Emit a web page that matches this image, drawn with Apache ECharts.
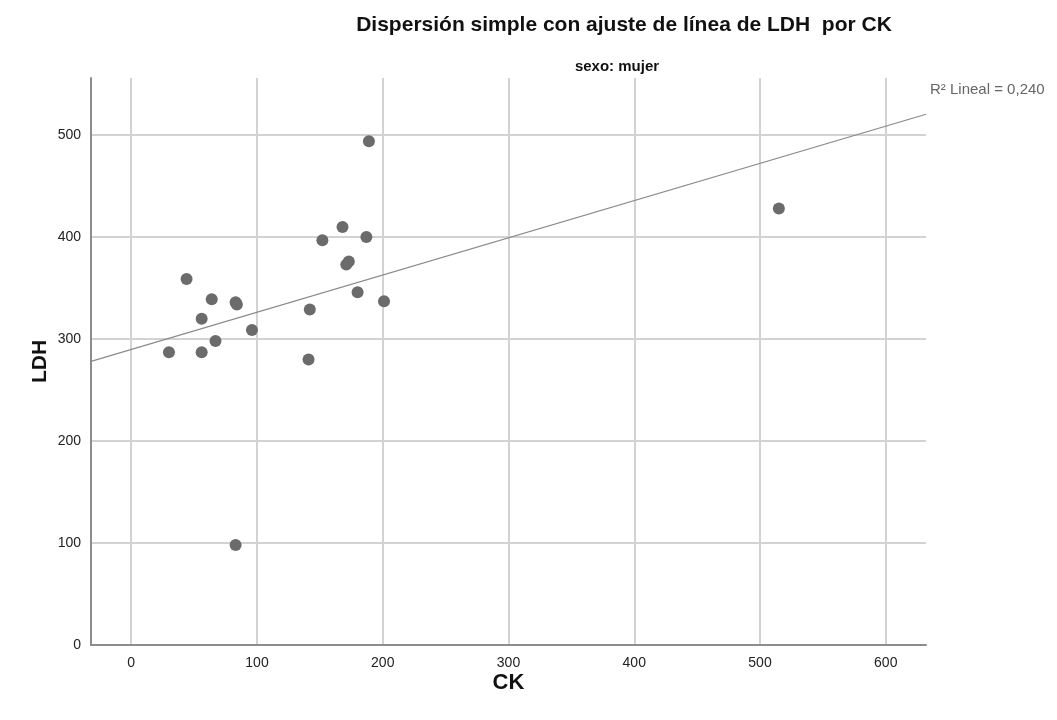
<!DOCTYPE html>
<html>
<head>
<meta charset="utf-8">
<script src="https://cdn.jsdelivr.net/npm/echarts@6/dist/echarts.min.js"></script>
<style>
  html, body { margin: 0; padding: 0; background: #fff; }
  #chart { width: 1057px; height: 720px; }
</style>
</head>
<body>
<div id="chart"></div>
<script>
// CK and LDH values for the "mujer" group
const ck  = [30, 44, 56, 56, 64, 67, 83, 84, 96, 83, 141, 142, 152, 168, 171, 173, 180, 187, 189, 201, 515];
const ldh = [287, 359, 320, 287, 339, 298, 336, 334, 309, 98, 280, 329, 397, 410, 373, 376, 346, 400, 494, 337, 428];

const titleText = 'Dispersión simple con ajuste de línea de LDH  por CK';
const subtitleText = 'sexo: mujer';
const fitLabel = 'R² Lineal = 0,240';

const xMin = -32, xMax = 632;
const yMin = 0, yMax = 556;

// Least-squares fit of LDH on CK
const n = ck.length;
const mx = ck.reduce((a, b) => a + b, 0) / n;
const my = ldh.reduce((a, b) => a + b, 0) / n;
let sxy = 0, sxx = 0;
for (let i = 0; i < n; i++) {
  sxy += (ck[i] - mx) * (ldh[i] - my);
  sxx += (ck[i] - mx) * (ck[i] - mx);
}
const slope = sxy / sxx;
const intercept = my - slope * mx;
const fitLine = [[xMin, intercept + slope * xMin], [xMax, intercept + slope * xMax]];

const points = ck.map((v, i) => [v, ldh[i]]);

const chart = echarts.init(document.getElementById('chart'), null, { renderer: 'canvas' });
chart.setOption({
  backgroundColor: '#ffffff',
  animation: false,
  textStyle: { fontFamily: 'Liberation Sans, Arial, sans-serif' },
  title: [
    {
      text: titleText,
      left: 619, top: 10, textAlign: 'center',
      textStyle: { fontSize: 21, fontWeight: 'bold', color: '#111', fontFamily: 'Liberation Sans' }
    },
    {
      text: subtitleText,
      left: 612, top: 54, textAlign: 'center',
      textStyle: { fontSize: 15, fontWeight: 'bold', color: '#111', fontFamily: 'Liberation Sans' }
    }
  ],
  grid: { left: 91, right: 131, top: 78, bottom: 75, containLabel: false },
  xAxis: {
    type: 'value',
    min: xMin, max: xMax,
    name: 'CK',
    nameLocation: 'middle',
    nameGap: 27,
    nameMoveOverlap: false,
    nameTextStyle: { fontSize: 22, fontWeight: 'bold', color: '#111', fontFamily: 'Liberation Sans' },
    axisLine: { show: true, onZero: false, lineStyle: { color: '#8c8c8c', width: 2 } },
    axisTick: { show: false },
    axisLabel: {
      color: '#222', fontSize: 14, margin: 11,
      showMinLabel: false, showMaxLabel: false,
      formatter: v => (v % 100 === 0 ? String(v) : '')
    },
    splitLine: { show: true, showMinLine: false, showMaxLine: false, lineStyle: { color: '#d2d2d2', width: 2 } }
  },
  yAxis: {
    type: 'value',
    min: yMin, max: yMax, interval: 100,
    name: 'LDH',
    nameLocation: 'middle',
    nameGap: 40,
    nameMoveOverlap: false,
    nameRotate: 90,
    nameTextStyle: { fontSize: 21, fontWeight: 'bold', color: '#111', fontFamily: 'Liberation Sans' },
    axisLine: { show: true, onZero: false, lineStyle: { color: '#8c8c8c', width: 2 } },
    axisTick: { show: false },
    axisLabel: {
      color: '#222', fontSize: 14, margin: 10,
      showMaxLabel: false,
      formatter: v => (v % 100 === 0 ? String(v) : '')
    },
    splitLine: { show: true, showMinLine: false, showMaxLine: false, lineStyle: { color: '#d2d2d2', width: 2 } }
  },
  series: [
    {
      type: 'line',
      data: fitLine,
      showSymbol: false,
      symbol: 'none',
      clip: true,
      lineStyle: { color: '#8a8a8a', width: 1.2 },
      z: 2,
      silent: true
    },
    {
      type: 'scatter',
      data: points,
      symbol: 'circle',
      symbolSize: 12,
      itemStyle: { color: '#6b6b6b', opacity: 1 },
      z: 3
    }
  ],
  graphic: [
    {
      type: 'text',
      left: 930, top: 82,
      style: { text: fitLabel, fill: '#666', fontSize: 15, fontFamily: 'Liberation Sans' }
    }
  ]
});
</script>
</body>
</html>
